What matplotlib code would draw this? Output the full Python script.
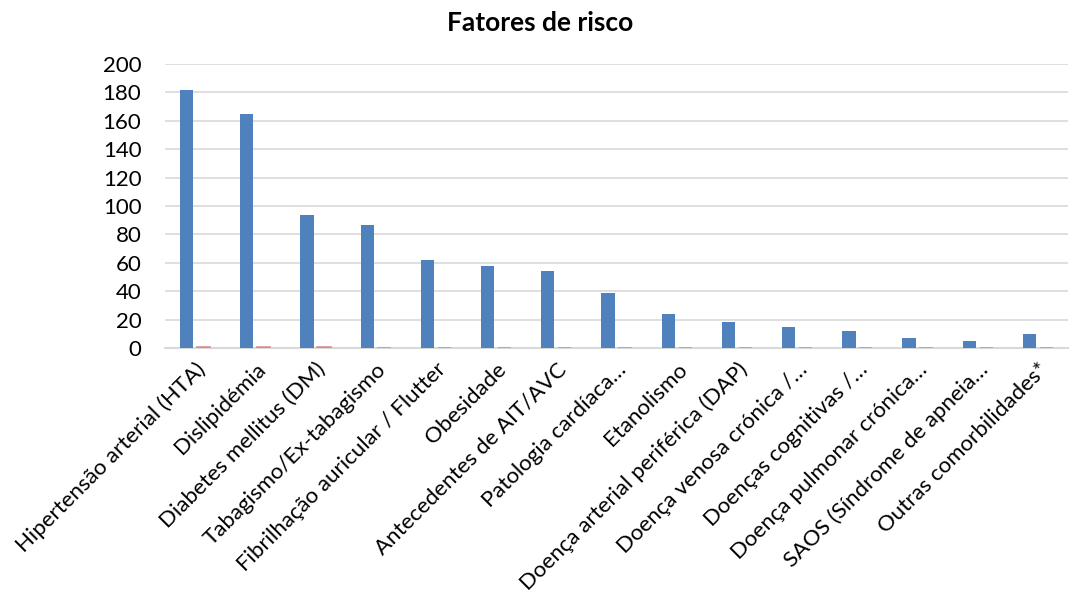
"""Risk factor counts (bar chart) with the matching proportion series."""

import matplotlib.pyplot as plt
import numpy as np

categories = [
    "Hipertensão arterial (HTA)",
    "Dislipidémia",
    "Diabetes mellitus (DM)",
    "Tabagismo/Ex-tabagismo",
    "Fibrilhação auricular / Flutter",
    "Obesidade",
    "Antecedentes de AIT/AVC",
    "Patologia cardíaca…",
    "Etanolismo",
    "Doença arterial periférica (DAP)",
    "Doença venosa crónica /…",
    "Doenças cognitivas /…",
    "Doença pulmonar crónica…",
    "SAOS (Síndrome de apneia…",
    "Outras comorbilidades*",
]
counts = [182, 165, 94, 87, 62, 58, 54, 39, 24, 18, 15, 12, 7, 5, 10]
proportions = [0.76, 0.69, 0.39, 0.36, 0.26, 0.24, 0.23, 0.16, 0.10, 0.08,
               0.06, 0.05, 0.03, 0.02, 0.04]
y_ticks = [0, 20, 40, 60, 80, 100, 120, 140, 160, 180, 200]

plt.rcParams["font.family"] = ["Lato", "DejaVu Sans"]

fig = plt.figure(figsize=(10.76, 5.99), dpi=100)
ax = fig.add_axes([0.1533, 0.419, 0.8393, 0.474])

x = np.arange(len(categories))
width = 0.22
ax.bar(x - 0.14, counts, width, color="#4F81BD", zorder=3)
# the proportion series is tiny on this scale; a thin edge keeps it visible
ax.bar(x + 0.14, proportions, width, color="#C0504D", edgecolor="#D98F8D",
       linewidth=1.2, zorder=4)

ax.set_xlim(-0.5, len(categories) - 0.5)
ax.set_ylim(0, 200)
ax.set_yticks(y_ticks)
ax.tick_params(axis="y", length=0, pad=17, labelsize=16)
ax.tick_params(axis="x", length=0, pad=8, labelsize=16)
ax.set_xticks(x)
ax.set_xticklabels(categories, rotation=45, ha="right", rotation_mode="anchor")

ax.grid(axis="y", color="#D9D9D9", linewidth=1.2, zorder=0)
for side in ("top", "right", "left"):
    ax.spines[side].set_visible(False)
ax.spines["bottom"].set_color("#D9D9D9")
ax.spines["bottom"].set_linewidth(1.5)

fig.text(0.502, 0.962, "Fatores de risco", ha="center", va="center",
         fontsize=19, fontweight="bold")

fig.savefig("out.png", dpi=100)
plt.close(fig)
